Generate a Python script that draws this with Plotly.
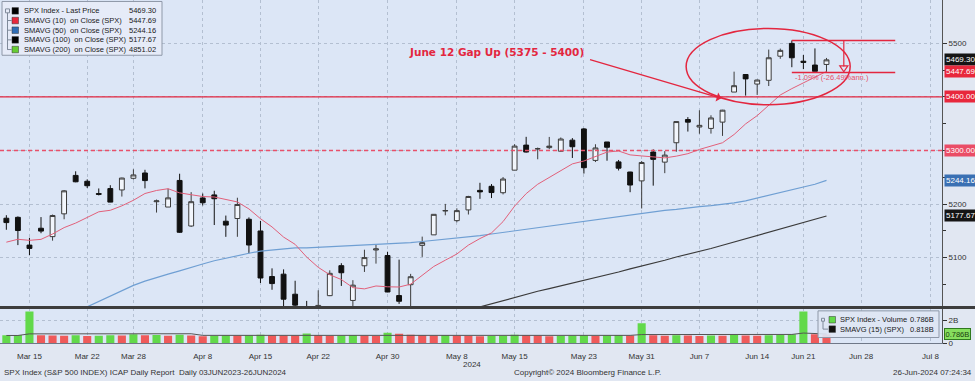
import plotly.graph_objects as go

W, H = 975, 381

# ---------------- data ----------------
dates = ['2024-03-13', '2024-03-14', '2024-03-15', '2024-03-18', '2024-03-19', '2024-03-20', '2024-03-21', '2024-03-22',
         '2024-03-25', '2024-03-26', '2024-03-27', '2024-03-28', '2024-04-01', '2024-04-02', '2024-04-03', '2024-04-04',
         '2024-04-05', '2024-04-08', '2024-04-09', '2024-04-10', '2024-04-11', '2024-04-12', '2024-04-15', '2024-04-16',
         '2024-04-17', '2024-04-18', '2024-04-19', '2024-04-22', '2024-04-23', '2024-04-24', '2024-04-25', '2024-04-26',
         '2024-04-29', '2024-04-30', '2024-05-01', '2024-05-02', '2024-05-03', '2024-05-06', '2024-05-07', '2024-05-08',
         '2024-05-09', '2024-05-10', '2024-05-13', '2024-05-14', '2024-05-15', '2024-05-16', '2024-05-17', '2024-05-20',
         '2024-05-21', '2024-05-22', '2024-05-23', '2024-05-24', '2024-05-28', '2024-05-29', '2024-05-30', '2024-05-31',
         '2024-06-03', '2024-06-04', '2024-06-05', '2024-06-06', '2024-06-07', '2024-06-10', '2024-06-11', '2024-06-12',
         '2024-06-13', '2024-06-14', '2024-06-17', '2024-06-18', '2024-06-20', '2024-06-21', '2024-06-24', '2024-06-25']
future_days = ['2024-06-26', '2024-06-27', '2024-06-28', '2024-07-01', '2024-07-02', '2024-07-03', '2024-07-04',
               '2024-07-05', '2024-07-08']

opens = [5173.49, 5175.14, 5123.31, 5154.77, 5139.09, 5181.69, 5253.43, 5242.48, 5219.52, 5228.85, 5226.31, 5248.03,
         5257.97, 5204.29, 5194.37, 5244.05, 5158.95, 5211.37, 5217.03, 5167.88, 5172.95, 5171.51, 5149.67, 5064.59,
         5068.97, 5031.52, 5005.44, 4987.33, 5028.85, 5084.86, 5019.88, 5084.65, 5114.13, 5103.78, 5029.03, 5049.32,
         5122.78, 5142.42, 5187.20, 5168.98, 5189.03, 5225.49, 5233.08, 5221.10, 5263.26, 5310.07, 5303.10, 5305.35,
         5298.69, 5319.28, 5340.26, 5281.45, 5315.91, 5278.73, 5259.77, 5243.21, 5297.15, 5278.24, 5314.48, 5357.80,
         5343.81, 5341.22, 5353.00, 5409.13, 5441.93, 5424.08, 5431.11, 5476.15, 5499.99, 5466.77, 5459.58, 5460.73]
highs = [5179.14, 5176.85, 5136.86, 5175.60, 5180.31, 5226.19, 5261.10, 5246.09, 5229.09, 5235.16, 5249.26, 5264.85,
         5263.95, 5208.34, 5228.75, 5256.59, 5222.18, 5219.57, 5224.81, 5178.43, 5211.78, 5175.03, 5168.43, 5079.84,
         5077.96, 5056.66, 5019.02, 5038.84, 5076.12, 5089.48, 5057.75, 5114.62, 5123.49, 5110.83, 5096.12, 5069.54,
         5139.12, 5181.00, 5200.23, 5191.95, 5215.30, 5239.66, 5237.26, 5250.37, 5311.76, 5325.49, 5305.45, 5325.32,
         5324.32, 5323.18, 5341.88, 5311.65, 5315.91, 5282.27, 5260.21, 5280.33, 5302.11, 5298.80, 5354.16, 5362.35,
         5375.08, 5365.79, 5375.95, 5447.25, 5441.93, 5432.39, 5488.50, 5490.38, 5505.53, 5478.31, 5490.66, 5472.88]
lows = [5151.88, 5123.30, 5104.35, 5145.47, 5131.59, 5171.55, 5240.66, 5229.87, 5216.09, 5203.42, 5213.92, 5245.82,
        5229.20, 5184.05, 5194.37, 5146.06, 5157.21, 5197.35, 5160.78, 5138.70, 5138.77, 5107.94, 5052.47, 5039.83,
        5007.25, 4990.58, 4953.56, 4969.40, 5027.96, 5047.02, 4990.58, 5073.14, 5088.65, 5035.31, 5013.45, 5001.46,
        5101.22, 5142.42, 5178.96, 5165.86, 5180.41, 5209.68, 5211.16, 5217.98, 5263.26, 5296.19, 5283.59, 5302.40,
        5297.87, 5286.01, 5256.93, 5278.39, 5280.89, 5262.70, 5222.10, 5191.68, 5234.32, 5257.63, 5297.64, 5335.36,
        5331.33, 5331.52, 5327.25, 5409.13, 5402.51, 5403.75, 5420.40, 5471.32, 5455.56, 5452.03, 5447.59, 5446.56]
closes = [5165.31, 5150.48, 5117.09, 5149.42, 5178.51, 5224.62, 5241.53, 5234.18, 5218.19, 5203.58, 5248.49, 5254.35,
          5243.77, 5205.81, 5211.49, 5147.21, 5204.34, 5202.39, 5209.91, 5160.64, 5199.06, 5123.41, 5061.82, 5051.41,
          5022.21, 5011.12, 4967.23, 5010.60, 5070.55, 5071.63, 5048.42, 5099.96, 5116.17, 5035.69, 5018.39, 5064.20,
          5127.79, 5180.74, 5187.70, 5187.67, 5214.08, 5222.68, 5221.42, 5246.68, 5308.15, 5297.10, 5303.27, 5308.13,
          5321.41, 5307.01, 5267.84, 5304.72, 5306.04, 5266.95, 5235.48, 5277.51, 5283.40, 5291.34, 5354.03, 5352.96,
          5346.99, 5360.79, 5375.32, 5421.03, 5433.74, 5431.60, 5473.23, 5487.03, 5473.17, 5464.62, 5447.87, 5469.30]

sma10 = [5128.73, 5134.15, 5132.15, 5134.00, 5143.98, 5155.97, 5164.39, 5175.44, 5185.46, 5188.29,
         5196.61, 5207.00, 5219.66, 5225.30, 5228.60, 5220.86, 5217.14, 5213.96, 5213.13, 5208.84,
         5203.90, 5190.80, 5172.61, 5157.17, 5138.24, 5124.63, 5100.92, 5081.74, 5067.81, 5058.90,
         5043.84, 5041.50, 5046.93, 5045.36, 5044.98, 5050.28, 5066.34, 5083.35, 5095.07, 5106.67,
         5123.24, 5135.51, 5146.04, 5167.14, 5196.11, 5219.40, 5236.95, 5249.69, 5263.06, 5274.99,
         5280.37, 5288.57, 5297.04, 5299.06, 5291.80, 5289.84, 5287.85, 5286.17, 5289.43, 5294.03,
         5301.94, 5307.55, 5314.48, 5329.89, 5349.71, 5365.12, 5384.10, 5403.67, 5415.59, 5426.75,
         5436.84, 5447.69]
sma50 = [4941, 4950, 4959, 4968, 4978, 4988, 4998, 5008, 5018, 5028,
         5038, 5048, 5056, 5063, 5069, 5075, 5082, 5088, 5094, 5099,
         5104, 5108, 5112, 5114, 5116, 5118, 5118, 5119, 5120, 5121,
         5122, 5123, 5124, 5125, 5127, 5128, 5130, 5132, 5135, 5137,
         5139, 5141, 5144, 5147, 5150, 5153, 5156, 5159, 5162, 5165,
         5168, 5171, 5174, 5177, 5180, 5183, 5185, 5188, 5190, 5193,
         5195, 5197, 5199, 5202, 5206, 5211, 5216, 5221, 5226, 5231,
         5237, 5244.16]
sma100_first_date = '2024-05-09'
sma100 = [5002, 5008, 5014, 5020, 5026, 5031, 5037, 5042, 5047, 5052,
          5058, 5063, 5068, 5073, 5079, 5084, 5090, 5095, 5101, 5106,
          5112, 5117, 5123, 5129, 5135, 5141, 5147, 5153, 5159, 5165,
          5171, 5177.67]

# volume in billions
volume_b = [0.70, 0.73, 2.77, 0.72, 0.69, 0.67, 0.72, 0.65, 0.67, 0.70,
            0.68, 0.79, 0.71, 0.73, 0.67, 0.75, 0.69, 0.63, 0.67, 0.70,
            0.68, 0.72, 0.75, 0.71, 0.69, 0.68, 0.87, 0.70, 0.67, 0.69,
            0.73, 0.68, 0.65, 0.92, 0.85, 0.76, 0.72, 0.69, 0.73, 0.68,
            0.66, 0.63, 0.65, 0.69, 0.75, 0.71, 0.69, 0.62, 0.66, 0.69,
            0.74, 0.64, 0.71, 0.73, 0.69, 1.75, 0.70, 0.66, 0.71, 0.68,
            0.65, 0.69, 0.67, 0.73, 0.68, 0.66, 0.70, 0.73, 0.80, 2.77,
            0.80, 0.786]
volume_prev_day = 0.68
vol_sma15 = [0.69, 0.69, 0.83, 0.83, 0.83, 0.83, 0.83, 0.83, 0.83, 0.83,
             0.83, 0.84, 0.84, 0.84, 0.84, 0.84, 0.84, 0.70, 0.70, 0.70,
             0.70, 0.70, 0.70, 0.70, 0.70, 0.70, 0.71, 0.71, 0.71, 0.71,
             0.71, 0.71, 0.71, 0.72, 0.73, 0.73, 0.73, 0.73, 0.73, 0.73,
             0.73, 0.72, 0.72, 0.72, 0.71, 0.71, 0.71, 0.71, 0.70, 0.70,
             0.70, 0.70, 0.70, 0.70, 0.70, 0.77, 0.77, 0.77, 0.77, 0.77,
             0.77, 0.77, 0.77, 0.77, 0.77, 0.77, 0.77, 0.77, 0.78, 0.90,
             0.83, 0.818]

tick_dates = ['2024-03-15', '2024-03-22', '2024-03-28', '2024-04-08', '2024-04-15', '2024-04-22', '2024-04-30',
              '2024-05-08', '2024-05-15', '2024-05-23', '2024-05-31', '2024-06-07', '2024-06-14', '2024-06-21',
              '2024-06-28', '2024-07-08']
tick_labels = ['Mar 15', 'Mar 22', 'Mar 28', 'Apr 8', 'Apr 15', 'Apr 22', 'Apr 30', 'May 8', 'May 15', 'May 23',
               'May 31', 'Jun 7', 'Jun 14', 'Jun 21', 'Jun 28', 'Jul 8']
price_ticks = [5100, 5200, 5300, 5400, 5500]
price_tick_labels = ['5100', '5200', '', '', '5500']   # 5300 / 5400 sit under the value tags
price_minor_ticks = [5050, 5150, 5250, 5350, 5450]

legend_names = ['SPX Index - Last Price', 'SMAVG (10)\u00a0 on Close (SPX)', 'SMAVG (50)\u00a0 on Close (SPX)',
                'SMAVG (100)\u00a0 on Close (SPX)', 'SMAVG (200)\u00a0 on Close (SPX)']
legend_values = ['5469.30', '5447.69', '5244.16', '5177.67', '4851.02']

support_level = 5400
dashed_level = 5300
gap_text = 'June 12 Gap Up (5375 - 5400)'
measure_high = 5505.53
measure_low = 5445.5
measure_text = '-1.09% (-26.49%ann.)'

# ---------------- styling ----------------
FONT = 'Liberation Sans, Arial, sans-serif'
RED = '#e3263f'
PINK = '#e8506a'
BLUE = '#6f9fd3'
GRID = '#b3bfd1'
GREENV = '#62d94a'
REDV = '#ef5a5a'


def px(X):
    return X / W


def py(Y):
    return (H - Y) / H


all_days = dates + future_days
xi = list(range(len(dates)))
tick_x = [all_days.index(d) for d in tick_dates]
i100 = dates.index(sma100_first_date)
vol_colors = []
prev = volume_prev_day
for v in volume_b:
    vol_colors.append(GREENV if v > prev else REDV)
    prev = v

fig = go.Figure()
fig.add_trace(go.Scatter(x=xi, y=sma50, mode='lines', line=dict(color=BLUE, width=1.2),
                         xaxis='x', yaxis='y', hoverinfo='skip', showlegend=False))
fig.add_trace(go.Scatter(x=xi[i100:], y=sma100, mode='lines', line=dict(color='#3a3a3a', width=1.2),
                         xaxis='x', yaxis='y', hoverinfo='skip', showlegend=False))
fig.add_trace(go.Scatter(x=xi, y=sma10, mode='lines', line=dict(color='#e2607a', width=1),
                         xaxis='x', yaxis='y', hoverinfo='skip', showlegend=False))
fig.add_trace(go.Candlestick(x=xi, open=opens, high=highs, low=lows, close=closes,
                             increasing=dict(line=dict(color='#3c3c3c', width=1), fillcolor='rgba(244,247,253,0.9)'),
                             decreasing=dict(line=dict(color='#111111', width=1), fillcolor='#111111'),
                             whiskerwidth=0, xaxis='x', yaxis='y', hoverinfo='skip', showlegend=False))
fig.add_trace(go.Bar(x=xi, y=volume_b, marker=dict(color=vol_colors, line=dict(width=0)), width=0.7,
                     xaxis='x2', yaxis='y2', hoverinfo='skip', showlegend=False))
fig.add_trace(go.Scatter(x=xi, y=vol_sma15, mode='lines', line=dict(color='#555555', width=1),
                         xaxis='x2', yaxis='y2', hoverinfo='skip', showlegend=False))

xr = [-0.55, 81.0]
xdom = [0, px(942)]
common_x = dict(range=xr, domain=xdom, tickvals=tick_x, showgrid=True, gridcolor=GRID, griddash='dot',
                gridwidth=1, zeroline=False, fixedrange=True)

shapes = []
annotations = []

# horizontal level lines
shapes.append(dict(type='line', xref='paper', yref='y', x0=0, x1=px(942), y0=support_level, y1=support_level,
                   line=dict(color=RED, width=1.3), layer='above'))
shapes.append(dict(type='line', xref='paper', yref='y', x0=0, x1=px(942), y0=dashed_level, y1=dashed_level,
                   line=dict(color=PINK, width=1.6, dash='4px,3px'), layer='above'))
# ellipse
shapes.append(dict(type='circle', xref='x', yref='y', x0=58.85, x1=73.05, y0=5385.5, y1=5528.0,
                   line=dict(color=RED, width=1.5), layer='above'))
# measurement drawing
shapes.append(dict(type='line', xref='x', yref='y', x0=68.0, x1=76.95, y0=measure_high, y1=measure_high,
                   line=dict(color=RED, width=1.5), layer='above'))
shapes.append(dict(type='line', xref='x', yref='y', x0=68.0, x1=76.95, y0=measure_low, y1=measure_low,
                   line=dict(color=RED, width=1.5), layer='above'))
shapes.append(dict(type='line', xref='x', yref='y', x0=72.5, x1=72.5, y0=measure_high, y1=5457,
                   line=dict(color=RED, width=1.2), layer='above'))
shapes.append(dict(type='path', xref='x', yref='y', path='M 72.15 5458 L 72.85 5458 L 72.5 5447 Z',
                   line=dict(color=RED, width=1.2), fillcolor='rgba(0,0,0,0)', layer='above'))
annotations.append(dict(xref='x', yref='y', x=68.1, y=5435.5, text=measure_text, showarrow=False,
                        xanchor='left', yanchor='middle', font=dict(family=FONT, size=7.5, color=PINK)))
# gap annotation + arrow
annotations.append(dict(xref='x', yref='y', x=42.4, y=5483.5, text='<b>' + gap_text + '</b>', showarrow=False,
                        xanchor='center', yanchor='middle',
                        font=dict(family='DejaVu Sans, Verdana, sans-serif', size=10.5, color=RED)))
annotations.append(dict(xref='x', yref='y', x=61.9, y=5397.5, axref='x', ayref='y', ax=50.4, ay=5470.5,
                        text='', showarrow=True, arrowhead=1, arrowsize=1.2, arrowwidth=1.3, arrowcolor=RED,
                        standoff=0, startstandoff=0))

# pane divider
shapes.append(dict(type='line', xref='paper', yref='paper', x0=0, x1=1, y0=py(311.5), y1=py(311.5),
                   line=dict(color='#3d3d3d', width=3), layer='above'))

# main legend box
LEGF = 7.5
shapes.append(dict(type='rect', xref='paper', yref='paper', x0=px(2), x1=px(162), y0=py(56), y1=py(1.5),
                   line=dict(color='#8e98a8', width=1), fillcolor='rgba(230,236,247,0.92)', layer='above'))
sq_colors = ['#000000', '#e8283c', '#2f6db5', '#000000', '#66cc33']
shapes.append(dict(type='rect', xref='paper', yref='paper', x0=px(5.5), x1=px(9.5), y0=py(13), y1=py(9),
                   line=dict(color='#7f8a9a', width=1), fillcolor='rgba(0,0,0,0)', layer='above'))
shapes.append(dict(type='line', xref='paper', yref='paper', x0=px(7.5), x1=px(7.5), y0=py(50.5), y1=py(13),
                   line=dict(color='#7f8a9a', width=1), layer='above'))
for i, (nm, val, c) in enumerate(zip(legend_names, legend_values, sq_colors)):
    yy = 11 + 9.8 * i
    if i > 0:
        shapes.append(dict(type='line', xref='paper', yref='paper', x0=px(7.5), x1=px(11.5), y0=py(yy), y1=py(yy),
                           line=dict(color='#7f8a9a', width=1), layer='above'))
    shapes.append(dict(type='rect', xref='paper', yref='paper', x0=px(12), x1=px(18.5), y0=py(yy + 3.3),
                       y1=py(yy - 3.3), line=dict(color='#333333', width=0.5), fillcolor=c, layer='above'))
    annotations.append(dict(xref='paper', yref='paper', x=px(21.5), y=py(yy), text=nm, showarrow=False,
                            xanchor='left', yanchor='middle', font=dict(family=FONT, size=LEGF, color='#1a1a1a')))
    annotations.append(dict(xref='paper', yref='paper', x=px(157.5), y=py(yy), text=val, showarrow=False,
                            xanchor='right', yanchor='middle', font=dict(family=FONT, size=LEGF, color='#1a1a1a')))

# volume legend box
shapes.append(dict(type='rect', xref='paper', yref='paper', x0=px(818), x1=px(939), y0=py(342), y1=py(315),
                   line=dict(color='#8e98a8', width=1), fillcolor='rgba(222,230,244,0.9)', layer='above'))
shapes.append(dict(type='rect', xref='paper', yref='paper', x0=px(821.5), x1=px(824.5), y0=py(325.5), y1=py(322.5),
                   line=dict(color='#7f8a9a', width=1), fillcolor='rgba(0,0,0,0)', layer='above'))
shapes.append(dict(type='line', xref='paper', yref='paper', x0=px(823), x1=px(823), y0=py(333.5), y1=py(325.5),
                   line=dict(color='#7f8a9a', width=1), layer='above'))
shapes.append(dict(type='line', xref='paper', yref='paper', x0=px(823), x1=px(828), y0=py(333.5), y1=py(333.5),
                   line=dict(color='#7f8a9a', width=1), layer='above'))
vol_leg = [('SPX Index - Volume', '0.786B', GREENV, 324), ('SMAVG (15) (SPX)', '0.818B', '#111111', 333.5)]
for nm, val, c, yy in vol_leg:
    shapes.append(dict(type='rect', xref='paper', yref='paper', x0=px(829), x1=px(835.5), y0=py(yy + 3.3),
                       y1=py(yy - 3.3), line=dict(color='#333333', width=0.5), fillcolor=c, layer='above'))
    annotations.append(dict(xref='paper', yref='paper', x=px(837.5), y=py(yy), text=nm, showarrow=False,
                            xanchor='left', yanchor='middle', font=dict(family=FONT, size=LEGF, color='#1a1a1a')))
    annotations.append(dict(xref='paper', yref='paper', x=px(935.5), y=py(yy), text=val, showarrow=False,
                            xanchor='right', yanchor='middle', font=dict(family=FONT, size=LEGF, color='#1a1a1a')))

# right-side value tags
tags = [(5469.30, '5469.30', '#151515'), (5447.69, '5447.69', '#e8283c'), (5400.00, '5400.00', '#e8283c'),
        (5300.00, '5300.00', '#ea4d66'), (5244.16, '5244.16', '#3a70b3'), (5177.67, '5177.67', '#151515')]
for val, txt, bg in tags:
    annotations.append(dict(xref='paper', yref='y', x=px(944), y=val, text=txt, showarrow=False,
                            xanchor='left', yanchor='middle', bgcolor=bg, borderpad=1,
                            font=dict(family=FONT, size=8, color='white')))
annotations.append(dict(xref='paper', yref='y2', x=px(944), y=0.786, text='0.786B', showarrow=False,
                        xanchor='left', yanchor='middle', bgcolor='#86de5e', bordercolor='#2f7a1e', borderwidth=1,
                        borderpad=0.5, font=dict(family=FONT, size=7.5, color='#1b4010')))

# footer + year
annotations.append(dict(xref='paper', yref='paper', x=px(472), y=py(369), text='2024', showarrow=False,
                        xanchor='center', yanchor='middle', font=dict(family=FONT, size=8, color='#333333')))
annotations.append(dict(xref='paper', yref='paper', x=px(2), y=py(377), showarrow=False, xanchor='left',
                        yanchor='middle', text='SPX Index (S&P 500 INDEX) ICAP Daily Report\u00a0 Daily 03JUN2023-26JUN2024',
                        font=dict(family=FONT, size=8, color='#333333')))
annotations.append(dict(xref='paper', yref='paper', x=px(512), y=py(377), showarrow=False, xanchor='left',
                        yanchor='middle', text='Copyright\u00a9 2024 Bloomberg Finance L.P.',
                        font=dict(family=FONT, size=8, color='#333333')))
annotations.append(dict(xref='paper', yref='paper', x=px(974), y=py(377), showarrow=False, xanchor='right',
                        yanchor='middle', text='26-Jun-2024 07:24:34',
                        font=dict(family=FONT, size=8, color='#333333')))

fig.update_layout(
    width=W, height=H,
    margin=dict(l=0, r=0, t=0, b=0),
    paper_bgcolor='#e1e7f2',
    plot_bgcolor='#dce6f6',
    boxgap=0.4,
    bargap=0.3,
    hovermode=False,
    dragmode=False,
    showlegend=False,
    font=dict(family=FONT, size=8, color='#333333'),
    xaxis=dict(anchor='y', showticklabels=False, ticks='', rangeslider=dict(visible=False), **common_x),
    xaxis2=dict(anchor='y2', ticktext=tick_labels, ticks='outside', ticklen=5, tickcolor='rgba(0,0,0,0)',
                tickfont=dict(family=FONT, size=8, color='#333333'), showline=True, linecolor='#6f7888',
                linewidth=1, **common_x),
    yaxis=dict(anchor='x', domain=[py(311), 1], range=[5007.8, 5581.1], side='right', tickvals=price_ticks,
               ticktext=price_tick_labels,
               ticks='outside', ticklen=4, tickcolor='#333333', tickfont=dict(family=FONT, size=8, color='#333333'),
               showgrid=True, gridcolor=GRID, griddash='dot', zeroline=False, showline=True, linecolor='#555555',
               linewidth=1, fixedrange=True,
               minor=dict(tickvals=price_minor_ticks, ticks='outside', ticklen=3, tickcolor='#333333',
                          showgrid=False)),
    yaxis2=dict(anchor='x2', domain=[py(348), py(312.5)], range=[0, 3.04], side='right', tickvals=[0, 2],
                ticktext=['0', '2B'], ticks='outside', ticklen=4, tickcolor='#333333',
                tickfont=dict(family=FONT, size=8, color='#333333'), showgrid=True, gridcolor=GRID,
                griddash='dot', zeroline=False, showline=True, linecolor='#555555', linewidth=1, fixedrange=True),
    shapes=shapes,
    annotations=annotations,
)

fig.write_html('out.html', config={'displayModeBar': False},
               post_script="document.body.style.margin='0';document.body.style.overflow='hidden';")
